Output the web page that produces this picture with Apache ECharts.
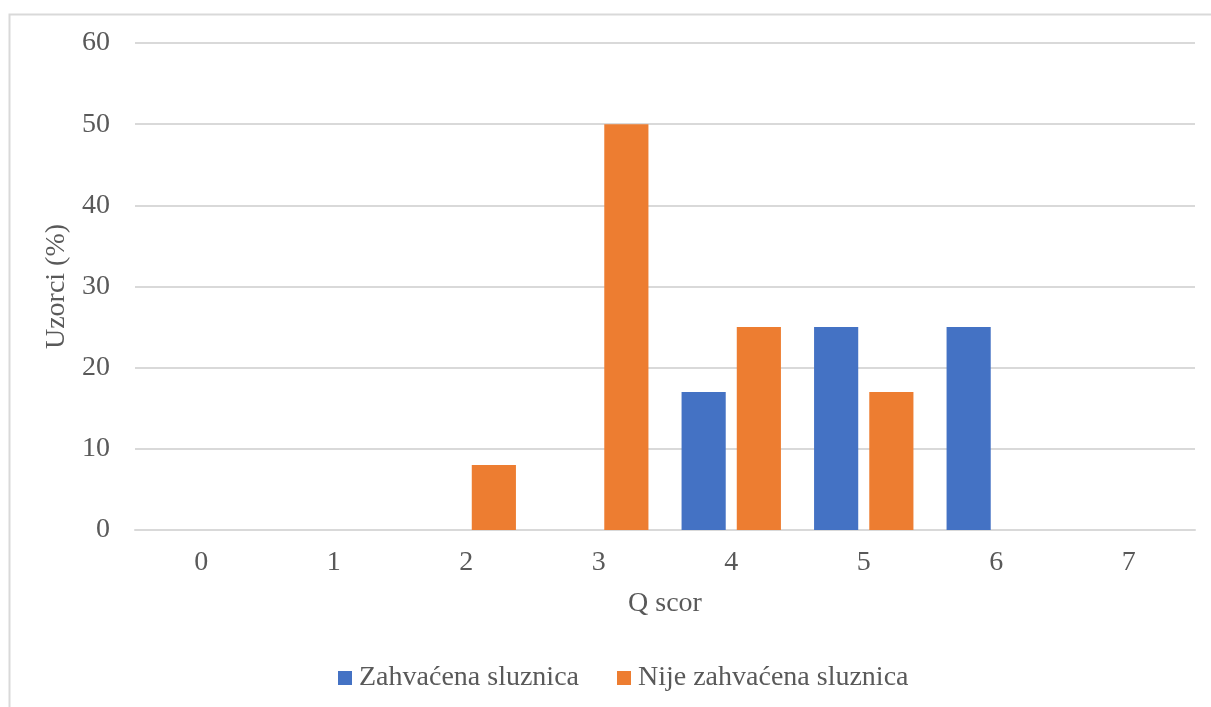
<!DOCTYPE html>
<html>
<head>
<meta charset="utf-8">
<script src="https://cdn.jsdelivr.net/npm/echarts@6/dist/echarts.min.js"></script>
<style>
html,body{margin:0;padding:0;background:#fff;}
#chart{width:1211px;height:707px;}
</style>
</head>
<body>
<div id="chart"></div>
<script>
const categories = ['0','1','2','3','4','5','6','7'];
const seriesNames = ['Zahvaćena sluznica', 'Nije zahvaćena sluznica'];
const zahvacena = [0, 0, 0, 0, 17, 25, 25, 0];
const nijeZahvacena = [0, 0, 8, 50, 25, 17, 0, 0];
const yTicks = [0, 10, 20, 30, 40, 50, 60];

const FONT = '"Liberation Serif", "Times New Roman", serif';
const TXT = '#595959';
const GRID = '#d9d9d9';
const FS = 28;

const chart = echarts.init(document.getElementById('chart'), null, {renderer: 'canvas'});
chart.setOption({
  animation: false,
  backgroundColor: '#fff',
  textStyle: {fontFamily: FONT, color: TXT},
  graphic: [{
    type: 'rect', silent: true, z: -10,
    shape: {x: 9.5, y: 14.5, width: 1220, height: 720},
    style: {fill: 'none', stroke: GRID, lineWidth: 2}
  }],
  grid: {left: 135, right: 16, top: 43, bottom: 177, containLabel: false},
  legend: {
    data: seriesNames,
    left: 333,
    top: 659,
    itemWidth: 14, itemHeight: 14, itemGap: 38,
    icon: 'rect',
    textStyle: {fontFamily: FONT, color: TXT, fontSize: FS, padding: [0, 0, 0, 2]}
  },
  xAxis: {
    type: 'category',
    data: categories,
    name: 'Q scor',
    nameLocation: 'middle',
    nameGap: 60,
    nameTextStyle: {fontFamily: FONT, color: TXT, fontSize: FS},
    axisLine: {show: true, lineStyle: {color: GRID, width: 2}},
    axisTick: {show: false},
    axisLabel: {fontFamily: FONT, color: TXT, fontSize: FS, margin: 19}
  },
  yAxis: {
    type: 'value',
    min: yTicks[0], max: yTicks[yTicks.length - 1], interval: 10,
    name: 'Uzorci (%)',
    nameLocation: 'middle',
    nameGap: 60,
    nameTextStyle: {fontFamily: FONT, color: TXT, fontSize: FS},
    axisLine: {show: false},
    axisTick: {show: false},
    axisLabel: {fontFamily: FONT, color: TXT, fontSize: FS, margin: 25},
    splitLine: {lineStyle: {color: GRID, width: 2}}
  },
  series: [
    {name: seriesNames[0], type: 'bar', data: zahvacena, itemStyle: {color: '#4472C4'},
     barCategoryGap: '25%', barGap: '25%'},
    {name: seriesNames[1], type: 'bar', data: nijeZahvacena, itemStyle: {color: '#ED7D31'},
     barCategoryGap: '25%', barGap: '25%'}
  ]
});
</script>
</body>
</html>
